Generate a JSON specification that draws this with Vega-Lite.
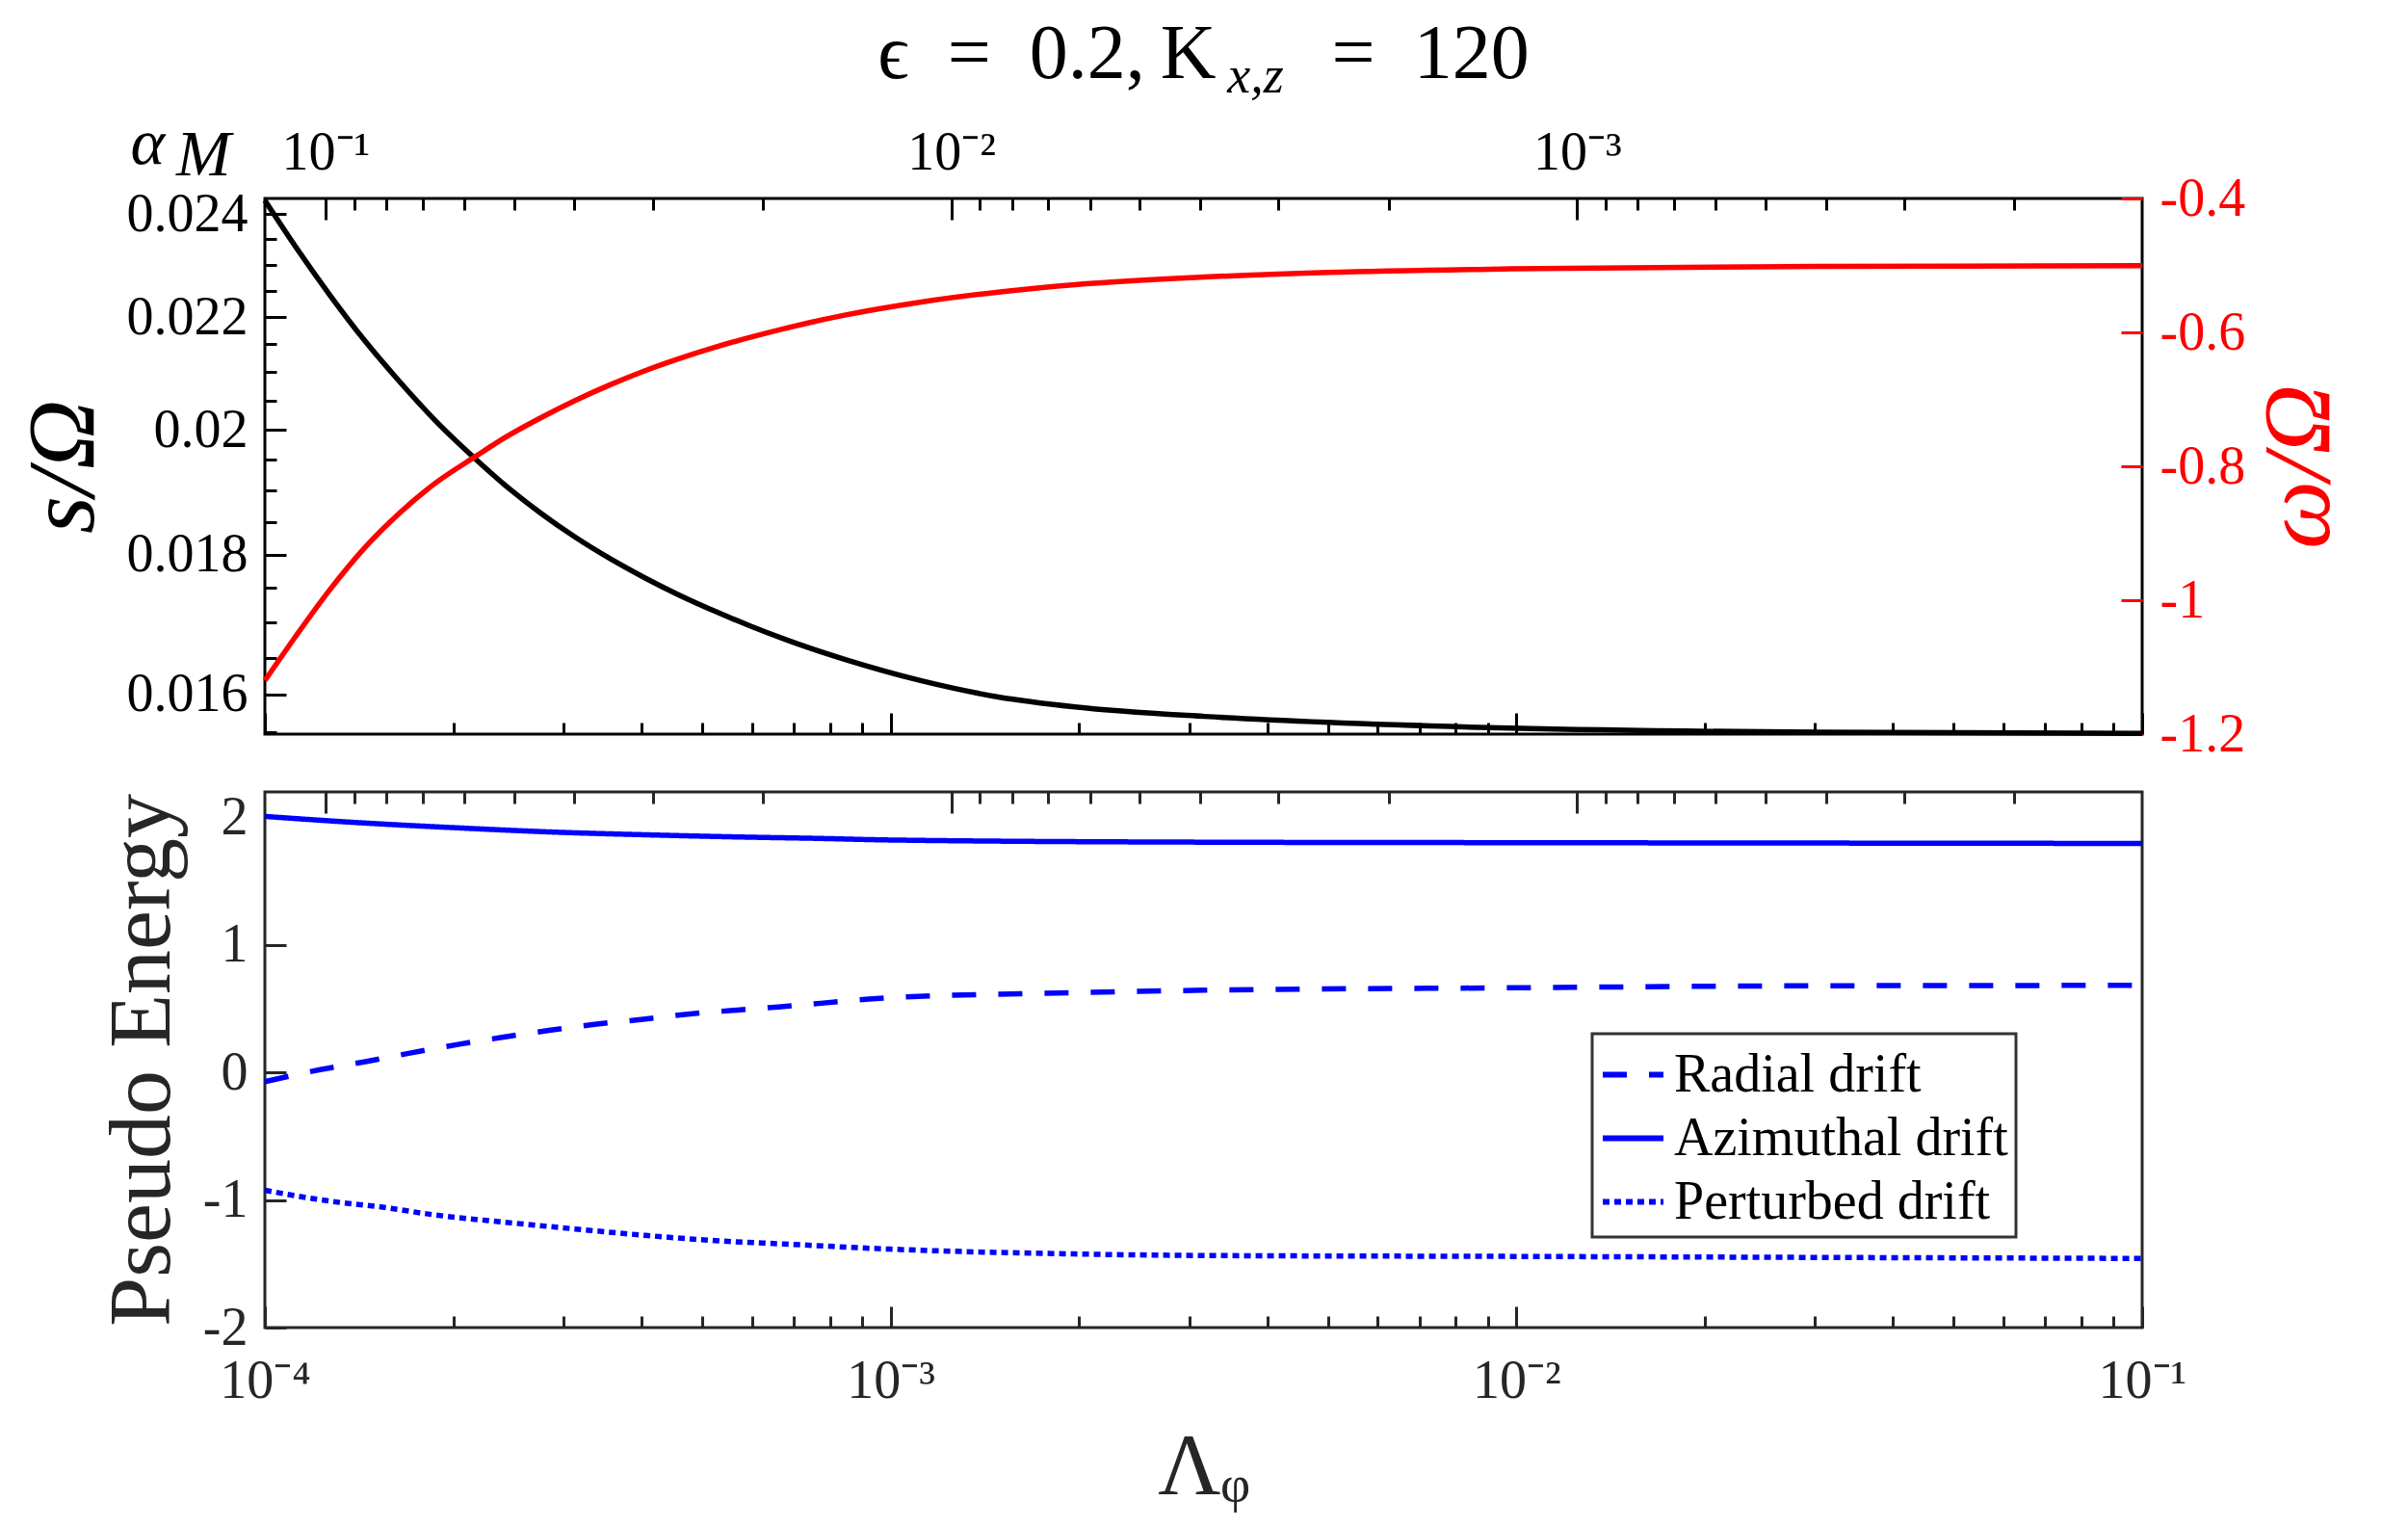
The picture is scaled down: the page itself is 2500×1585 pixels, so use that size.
{
  "$schema": "https://vega.github.io/schema/vega-lite/v6.json",
  "background": "white",
  "padding": {"left": 14, "top": 15, "right": 5, "bottom": 5},
  "config": {
    "font": "Liberation Serif",
    "view": {"stroke": null},
    "legend": {"strokeWidth": 3},
    "axis": {
      "grid": false,
      "domain": false,
      "labelFont": "Liberation Serif",
      "labelFontSize": 56,
      "labelFlush": false,
      "labelOverlap": false,
      "labelBound": false,
      "titleFont": "Liberation Serif",
      "titleFontWeight": "normal",
      "tickWidth": 3
    }
  },
  "datasets": {
    "top": [
      {"lam": 0.0001, "s": 0.02428, "w": -1.12},
      {"lam": 0.0001118, "s": 0.02336, "w": -1.055},
      {"lam": 0.0001271, "s": 0.02241, "w": -0.984},
      {"lam": 0.0001446, "s": 0.02156, "w": -0.921},
      {"lam": 0.0001645, "s": 0.020824, "w": -0.869},
      {"lam": 0.0001871, "s": 0.020164, "w": -0.8254},
      {"lam": 0.0002169, "s": 0.01952, "w": -0.7855},
      {"lam": 0.000242, "s": 0.01909, "w": -0.757},
      {"lam": 0.0002754, "s": 0.01865, "w": -0.728},
      {"lam": 0.0003132, "s": 0.01827, "w": -0.7017},
      {"lam": 0.0003563, "s": 0.01794, "w": -0.6782},
      {"lam": 0.0004052, "s": 0.01765, "w": -0.6572},
      {"lam": 0.000461, "s": 0.01739, "w": -0.6387},
      {"lam": 0.0005243, "s": 0.01716, "w": -0.6222},
      {"lam": 0.0005964, "s": 0.01695, "w": -0.6074},
      {"lam": 0.0006783, "s": 0.016759, "w": -0.594},
      {"lam": 0.0007405, "s": 0.016639, "w": -0.5856},
      {"lam": 0.000844, "s": 0.016478, "w": -0.5743},
      {"lam": 0.00112, "s": 0.016182, "w": -0.5546},
      {"lam": 0.001486, "s": 0.015963, "w": -0.5398},
      {"lam": 0.00197, "s": 0.01583, "w": -0.5288},
      {"lam": 0.00317, "s": 0.015703, "w": -0.5174},
      {"lam": 0.005, "s": 0.015624, "w": -0.5105},
      {"lam": 0.0098, "s": 0.015548, "w": -0.5052},
      {"lam": 0.0303, "s": 0.015495, "w": -0.5015},
      {"lam": 0.1, "s": 0.015481, "w": -0.5005}
    ],
    "energy": [
      {"lam": 0.0001, "series": "Radial drift", "e": -0.072},
      {"lam": 0.0001231, "series": "Radial drift", "e": 0.024},
      {"lam": 0.0001455, "series": "Radial drift", "e": 0.087},
      {"lam": 0.0001721, "series": "Radial drift", "e": 0.156},
      {"lam": 0.0002035, "series": "Radial drift", "e": 0.22},
      {"lam": 0.0002405, "series": "Radial drift", "e": 0.277},
      {"lam": 0.0002843, "series": "Radial drift", "e": 0.33},
      {"lam": 0.0003362, "series": "Radial drift", "e": 0.377},
      {"lam": 0.000399, "series": "Radial drift", "e": 0.415},
      {"lam": 0.000473, "series": "Radial drift", "e": 0.457},
      {"lam": 0.000559, "series": "Radial drift", "e": 0.487},
      {"lam": 0.000661, "series": "Radial drift", "e": 0.514},
      {"lam": 0.001, "series": "Radial drift", "e": 0.586},
      {"lam": 0.00197, "series": "Radial drift", "e": 0.626},
      {"lam": 0.00317, "series": "Radial drift", "e": 0.645},
      {"lam": 0.0098, "series": "Radial drift", "e": 0.664},
      {"lam": 0.0303, "series": "Radial drift", "e": 0.68},
      {"lam": 0.1, "series": "Radial drift", "e": 0.683},
      {"lam": 0.0001, "series": "Azimuthal drift", "e": 2.008},
      {"lam": 0.00014, "series": "Azimuthal drift", "e": 1.96},
      {"lam": 0.0002, "series": "Azimuthal drift", "e": 1.92},
      {"lam": 0.0002974, "series": "Azimuthal drift", "e": 1.883},
      {"lam": 0.000405, "series": "Azimuthal drift", "e": 1.864},
      {"lam": 0.0005964, "series": "Azimuthal drift", "e": 1.845},
      {"lam": 0.0007405, "series": "Azimuthal drift", "e": 1.837},
      {"lam": 0.001, "series": "Azimuthal drift", "e": 1.823},
      {"lam": 0.00317, "series": "Azimuthal drift", "e": 1.806},
      {"lam": 0.0098, "series": "Azimuthal drift", "e": 1.802},
      {"lam": 0.0303, "series": "Azimuthal drift", "e": 1.799},
      {"lam": 0.1, "series": "Azimuthal drift", "e": 1.796},
      {"lam": 0.0001, "series": "Perturbed drift", "e": -0.923},
      {"lam": 0.0001271, "series": "Perturbed drift", "e": -1.009},
      {"lam": 0.0001542, "series": "Perturbed drift", "e": -1.056},
      {"lam": 0.0001871, "series": "Perturbed drift", "e": -1.117},
      {"lam": 0.000242, "series": "Perturbed drift", "e": -1.174},
      {"lam": 0.0003132, "series": "Perturbed drift", "e": -1.227},
      {"lam": 0.0004052, "series": "Perturbed drift", "e": -1.277},
      {"lam": 0.0005243, "series": "Perturbed drift", "e": -1.318},
      {"lam": 0.0006783, "series": "Perturbed drift", "e": -1.345},
      {"lam": 0.001, "series": "Perturbed drift", "e": -1.385},
      {"lam": 0.00197, "series": "Perturbed drift", "e": -1.423},
      {"lam": 0.00317, "series": "Perturbed drift", "e": -1.435},
      {"lam": 0.0098, "series": "Perturbed drift", "e": -1.442},
      {"lam": 0.0303, "series": "Perturbed drift", "e": -1.45},
      {"lam": 0.1, "series": "Perturbed drift", "e": -1.458}
    ],
    "alpha": [{"a": 0.01}]
  },
  "spacing": 26,
  "vconcat": [
    {
      "width": 1949,
      "height": 556,
      "view": {"stroke": "black", "strokeWidth": 3},
      "title": {
        "text": "\u03f5\u2002=\u20020.2,\u2009K\u2003\u2002=\u2002120",
        "subtitle": "\u200b\u2003\u2003x,z",
        "font": "Liberation Serif",
        "fontSize": 80,
        "fontWeight": "normal",
        "color": "black",
        "subtitleFont": "Liberation Serif",
        "subtitleFontSize": 54,
        "subtitleFontStyle": "italic",
        "subtitleColor": "black",
        "subtitlePadding": -45,
        "anchor": "middle",
        "frame": "group",
        "offset": 7
      },
      "layer": [
        {
          "data": {"name": "top"},
          "mark": {"type": "line", "color": "black", "strokeWidth": 5.5, "interpolate": "monotone"},
          "encoding": {
            "x": {
              "field": "lam",
              "type": "quantitative",
              "scale": {"type": "log", "domain": [0.0001, 0.1]},
              "axis": {
                "orient": "bottom",
                "title": null,
                "labels": false,
                "values": [0.0001, 0.0002, 0.0003, 0.0004, 0.0005, 0.0006, 0.0007, 0.0008, 0.0009, 0.001, 0.002, 0.003, 0.004, 0.005, 0.006, 0.007, 0.008, 0.009, 0.01, 0.02, 0.03, 0.04, 0.05, 0.06, 0.07, 0.08, 0.09, 0.1],
                "tickColor": "black",
                "tickSize": {"condition": {"test": "abs(log(datum.value)/LN10 - round(log(datum.value)/LN10)) < 0.000001", "value": -22}, "value": -12}
              }
            },
            "y": {
              "field": "s",
              "type": "quantitative",
              "scale": {"type": "log", "domain": [0.01547, 0.02432]},
              "axis": {
                "orient": "left",
                "title": "s/\u03a9",
                "titleFontSize": 100,
                "titleFontStyle": "italic",
                "titleColor": "black",
                "titlePadding": 14,
                "values": [0.0155, 0.016, 0.0165, 0.017, 0.0175, 0.018, 0.0185, 0.019, 0.0195, 0.02, 0.0205, 0.021, 0.0215, 0.022, 0.0225, 0.023, 0.0235, 0.024],
                "labelExpr": "abs(datum.value*500 - round(datum.value*500)) < 0.001 ? format(datum.value, '~g') : ''",
                "labelColor": "black",
                "labelPadding": 40,
                "tickColor": "black",
                "tickSize": {"condition": {"test": "abs(datum.value*500 - round(datum.value*500)) < 0.001", "value": -22}, "value": -12}
              }
            }
          }
        },
        {
          "data": {"name": "top"},
          "mark": {"type": "line", "color": "#FF0000", "strokeWidth": 5.5, "interpolate": "monotone"},
          "encoding": {
            "x": {
              "field": "lam",
              "type": "quantitative",
              "scale": {"type": "log", "domain": [0.0001, 0.1]},
              "axis": null
            },
            "y": {
              "field": "w",
              "type": "quantitative",
              "scale": {"domain": [-1.2, -0.4]},
              "axis": {
                "orient": "right",
                "title": "\u03c9/\u03a9",
                "titleFontSize": 100,
                "titleFontStyle": "italic",
                "titleColor": "#FF0000",
                "titleAngle": 270,
                "titleBaseline": "top",
                "titlePadding": 8,
                "values": [-1.2, -1, -0.8, -0.6, -0.4],
                "labelExpr": "'' + datum.value",
                "labelColor": "#FF0000",
                "labelPadding": 40,
                "tickColor": "#FF0000",
                "tickSize": -22
              }
            }
          }
        },
        {
          "data": {"name": "alpha"},
          "mark": {"type": "point", "opacity": 0},
          "encoding": {
            "x": {
              "field": "a",
              "type": "quantitative",
              "scale": {"type": "log", "domain": [0.000125, 0.125], "reverse": true},
              "axis": {
                "orient": "top",
                "title": ["\u03b1", "\u200b\u2002\u2009M"],
                "titleFontSize": 68,
                "titleFontStyle": "italic",
                "titleColor": "black",
                "titleAlign": "left",
                "titleBaseline": "alphabetic",
                "titleLineHeight": 12,
                "titleX": -140,
                "titleY": -37,
                "values": [0.1, 0.09, 0.08, 0.07, 0.06, 0.05, 0.04, 0.03, 0.02, 0.01, 0.009, 0.008, 0.007, 0.006, 0.005, 0.004, 0.003, 0.002, 0.001, 0.0009, 0.0008, 0.0007, 0.0006, 0.0005, 0.0004, 0.0003, 0.0002],
                "labelExpr": "abs(log(datum.value)/LN10 - round(log(datum.value)/LN10)) < 0.000001 ? '10' + (round(log(datum.value)/LN10) == -1 ? '\u207b\u00b9' : round(log(datum.value)/LN10) == -2 ? '\u207b\u00b2' : '\u207b\u00b3') : ''",
                "labelColor": "black",
                "labelPadding": 41,
                "tickColor": "black",
                "tickSize": {"condition": {"test": "abs(log(datum.value)/LN10 - round(log(datum.value)/LN10)) < 0.000001", "value": -22}, "value": -12}
              }
            }
          }
        }
      ],
      "resolve": {"scale": {"x": "independent", "y": "independent"}}
    },
    {
      "width": 1949,
      "height": 556,
      "view": {"stroke": "#262626", "strokeWidth": 3},
      "layer": [
        {
          "data": {"name": "energy"},
          "mark": {"type": "line", "color": "#0000FF", "strokeWidth": 5.5, "interpolate": "monotone"},
          "encoding": {
            "x": {
              "field": "lam",
              "type": "quantitative",
              "scale": {"type": "log", "domain": [0.0001, 0.1]},
              "axis": {
                "orient": "bottom",
                "title": "\u039b\u1d69",
                "titleFontSize": 90,
                "titleColor": "#262626",
                "titlePadding": 8,
                "values": [0.0001, 0.0002, 0.0003, 0.0004, 0.0005, 0.0006, 0.0007, 0.0008, 0.0009, 0.001, 0.002, 0.003, 0.004, 0.005, 0.006, 0.007, 0.008, 0.009, 0.01, 0.02, 0.03, 0.04, 0.05, 0.06, 0.07, 0.08, 0.09, 0.1],
                "labelExpr": "abs(log(datum.value)/LN10 - round(log(datum.value)/LN10)) < 0.000001 ? '10' + (round(log(datum.value)/LN10) == -4 ? '\u207b\u2074' : round(log(datum.value)/LN10) == -3 ? '\u207b\u00b3' : round(log(datum.value)/LN10) == -2 ? '\u207b\u00b2' : '\u207b\u00b9') : ''",
                "labelColor": "#262626",
                "labelPadding": 50,
                "tickColor": "#262626",
                "tickSize": {"condition": {"test": "abs(log(datum.value)/LN10 - round(log(datum.value)/LN10)) < 0.000001", "value": -22}, "value": -12}
              }
            },
            "y": {
              "field": "e",
              "type": "quantitative",
              "scale": {"domain": [-2, 2.2]},
              "axis": {
                "orient": "left",
                "title": "Pseudo Energy",
                "titleFontSize": 92,
                "titleColor": "#262626",
                "titlePadding": 16,
                "values": [-2, -1, 0, 1, 2],
                "labelExpr": "'' + datum.value",
                "labelColor": "#262626",
                "labelPadding": 40,
                "tickColor": "#262626",
                "tickSize": -22
              }
            },
            "strokeDash": {
              "field": "series",
              "type": "nominal",
              "scale": {
                "domain": ["Radial drift", "Azimuthal drift", "Perturbed drift"],
                "range": [[25, 23], [1, 0], [7, 5]]
              },
              "legend": {
                "orient": "none",
                "legendX": 1378,
                "legendY": 867,
                "title": null,
                "symbolType": "stroke",
                "symbolSize": 3969,
                "symbolStrokeWidth": 6,
                "symbolStrokeColor": "#0000FF",
                "labelFont": "Liberation Serif",
                "labelFontSize": 56,
                "labelColor": "black",
                "labelOffset": 8,
                "labelLimit": 0,
                "padding": 8,
                "rowPadding": 3,
                "strokeColor": "#333333",
                "fillColor": "white"
              }
            }
          }
        },
        {
          "data": {"name": "alpha"},
          "mark": {"type": "point", "opacity": 0},
          "encoding": {
            "x": {
              "field": "a",
              "type": "quantitative",
              "scale": {"type": "log", "domain": [0.000125, 0.125], "reverse": true},
              "axis": {
                "orient": "top",
                "title": null,
                "labels": false,
                "values": [0.1, 0.09, 0.08, 0.07, 0.06, 0.05, 0.04, 0.03, 0.02, 0.01, 0.009, 0.008, 0.007, 0.006, 0.005, 0.004, 0.003, 0.002, 0.001, 0.0009, 0.0008, 0.0007, 0.0006, 0.0005, 0.0004, 0.0003, 0.0002],
                "tickColor": "#262626",
                "tickSize": {"condition": {"test": "abs(log(datum.value)/LN10 - round(log(datum.value)/LN10)) < 0.000001", "value": -22}, "value": -12}
              }
            }
          }
        }
      ],
      "resolve": {"scale": {"x": "independent"}}
    }
  ]
}
